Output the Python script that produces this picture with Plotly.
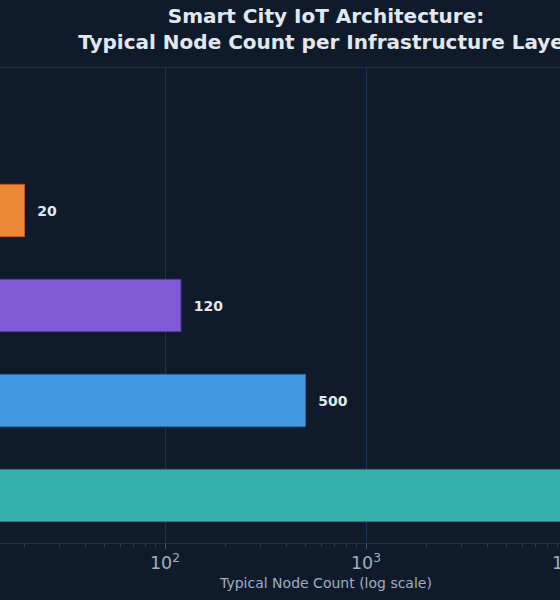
import plotly.graph_objects as go

# Data (bottom to top)
layers = [
    "Perception Layer (Sensors)",
    "Edge Gateway Layer",
    "Fog / Network Layer",
    "Cloud Platform Layer",
    "Application Layer",
]
node_counts = [10000, 500, 120, 20, 5]
bar_colors = ["#38B2AC", "#4299E1", "#805AD5", "#ED8936", "#E53E3E"]
border_colors = ["#2C7A7B", "#2B6CB0", "#553C9A", "#C05621", "#9B2C2C"]

BG = "#0F1B2A"
GRID = "#1C3350"

fig = go.Figure(
    go.Bar(
        y=layers,
        x=node_counts,
        orientation="h",
        marker=dict(color=bar_colors, line=dict(color=border_colors, width=1)),
        text=node_counts,
        texttemplate="  %{text}",
        textposition="outside",
        textfont=dict(family="DejaVu Sans", size=14, color="#E2E8F0", weight="bold"),
        cliponaxis=True,
        hoverinfo="x+y",
    )
)

fig.update_layout(
    width=652,
    height=600,
    paper_bgcolor=BG,
    plot_bgcolor=BG,
    font=dict(family="DejaVu Sans", color="#A0AEC0", size=13),
    title=dict(
        text="<b>Smart City IoT Architecture:<br>Typical Node Count per Infrastructure Layer</b>",
        x=0.5,
        xanchor="center",
        yref="container",
        y=0.962,
        yanchor="top",
        font=dict(family="DejaVu Sans", size=20, color="#E2E8F0"),
    ),
    margin=dict(l=0, r=0, t=68, b=57, autoexpand=False),
    bargap=0.45,
    showlegend=False,
)

fig.update_xaxes(
    type="log",
    range=[1.1791, 4.4229],
    dtick=1,
    exponentformat="power",
    showgrid=True,
    gridcolor=GRID,
    gridwidth=1,
    showline=True,
    mirror=True,
    linecolor=GRID,
    linewidth=1,
    ticks="outside",
    ticklen=5,
    tickcolor="#4A5568",
    tickfont=dict(family="DejaVu Sans", size=14, color="#A0AEC0"),
    minor=dict(ticks="outside", ticklen=3, tickcolor="#2D3748", showgrid=False),
    zeroline=False,
    title=dict(text="Typical Node Count (log scale)", font=dict(family="DejaVu Sans", size=14, color="#A0AEC0"), standoff=5),
)
fig.update_yaxes(
    showgrid=False,
    automargin=False,
    showline=False,
    zeroline=False,
    tickfont=dict(family="DejaVu Sans", size=13, color="#E2E8F0"),
)

fig.write_html(
    "out.html",
    config={"displayModeBar": False},
    post_script=(
        "document.body.style.margin='0';"
        "document.body.style.overflow='hidden';"
        "document.body.style.background='#0F1B2A';"
    ),
)
